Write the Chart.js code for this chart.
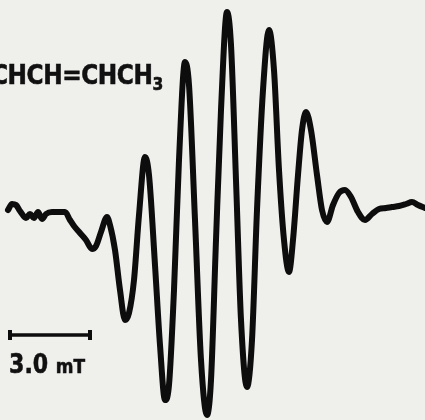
<!DOCTYPE html>
<html>
<head>
<meta charset="utf-8">
<script src="https://cdn.jsdelivr.net/npm/chart.js@4.4.1/dist/chart.umd.min.js"></script>
<style>
  html, body { margin: 0; padding: 0; background: #efefec; }
  #wrap { position: relative; width: 425px; height: 420px; overflow: hidden; }
  canvas { position: absolute; left: 0; top: 0; }
  .lbl { position: absolute; font-family: "DejaVu Sans", sans-serif; font-weight: bold; color: #111; white-space: nowrap; transform-origin: 0 0; }
  #formula { left: -9px; top: 59px; font-size: 27px; transform: scaleX(0.86); letter-spacing: -0.5px; -webkit-text-stroke: 0.6px #111; }
  #formula sub { font-size: 18px; vertical-align: -6px; }
  #unit { left: 9px; top: 349px; font-size: 26px; transform: scaleX(0.85); -webkit-text-stroke: 0.6px #111; }
  #unit small { font-size: 20px; }
</style>
</head>
<body>
<div id="wrap">
  <canvas id="epr" width="425" height="420"></canvas>
  <div class="lbl" id="formula">CHCH=CHCH<sub>3</sub></div>
  <div class="lbl" id="unit">3.0 <small>mT</small></div>
</div>
<script>
// field position (arb. units, 80 units = 3.0 mT) and derivative signal
const field = [8, 12, 16, 20, 26, 30, 34, 38, 42, 46, 52, 58, 65, 70, 74, 80, 86, 92, 96, 101,
  107, 110, 115, 120, 125, 129, 134, 139, 145, 149, 155, 160, 165, 169, 174, 179, 185, 189, 195, 201,
  207, 211, 216, 221, 227, 231, 236, 241, 247, 252, 257, 263, 269, 274, 279, 284, 289, 293, 298, 302,
  306, 311, 317, 322, 327, 333, 339, 345, 351, 358, 365, 372, 379, 386, 392, 399, 406, 412, 418, 425];
const signal = [0, 6, 5, -1, -8, -4, -8, -2, -9, -4, -2, -2, -2, -10, -16, -23, -30, -39, -36, -22,
  -7, -15, -40, -80, -110, -103, -70, -5, 53, 35, -55, -135, -190, -175, -80, 50, 148, 125, -10, -150,
  -205, -170, -30, 100, 198, 165, 30, -110, -177, -130, 0, 120, 180, 140, 40, -30, -62, -30, 35, 80,
  98, 80, 35, 0, -12, 5, 17, 20, 13, -2, -10, -4, 1, 2, 3, 4, 6, 8, 5, 2];

// scale bar: 3.0 mT
const scaleBarStart = 10;
const scaleBarLength = 80;
const scaleBarLevel = -125;

const spectrum = field.map((x, i) => ({ x: x, y: signal[i] }));
const scaleBar = [
  { x: scaleBarStart, y: scaleBarLevel },
  { x: scaleBarStart + scaleBarLength, y: scaleBarLevel }
];

new Chart(document.getElementById('epr'), {
  type: 'line',
  data: {
    datasets: [
      {
        data: spectrum,
        borderColor: '#0d0d0d',
        borderWidth: 6,
        borderJoinStyle: 'round',
        borderCapStyle: 'round',
        cubicInterpolationMode: 'monotone',
        pointRadius: 0,
        fill: false,
        clip: false
      },
      {
        data: scaleBar,
        borderColor: '#0d0d0d',
        borderWidth: 3.5,
        pointStyle: 'line',
        rotation: 90,
        pointRadius: 5,
        pointBorderWidth: 4,
        pointBorderColor: '#0d0d0d',
        fill: false,
        clip: false
      }
    ]
  },
  options: {
    responsive: false,
    animation: false,
    layout: { padding: 0, autoPadding: false },
    scales: {
      x: { type: 'linear', display: false, min: 0, max: 425 },
      y: { type: 'linear', display: false, min: -210, max: 210 }
    },
    plugins: { legend: { display: false }, tooltip: { enabled: false } },
    elements: { line: { tension: 0 } }
  }
});
</script>
</body>
</html>
